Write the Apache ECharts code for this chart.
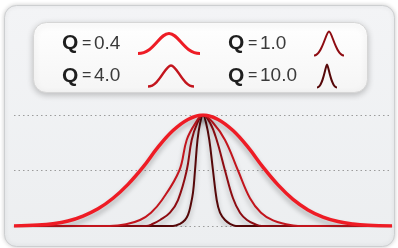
<!DOCTYPE html>
<html>
<head>
<meta charset="UTF-8">
<title>Q curves</title>
<script src="https://cdn.jsdelivr.net/npm/echarts@6/dist/echarts.min.js"></script>
</head>
<body style="margin:0;background:#fff;">
<div id="container" style="width:398px;height:248px;"></div>
<script type="text/javascript">
// x = offset from the peak (px-like units), y = relative height
var q04X = [-189, -165, -150, -135, -120, -105, -90, -75, -60, -45, -30, -15, 0, 15, 30, 45, 60, 75, 90, 105, 120, 135, 150, 165, 189];
var q04Y = [0, 0.008, 0.02, 0.045, 0.09, 0.155, 0.25, 0.375, 0.53, 0.71, 0.86, 0.96, 1, 0.96, 0.86, 0.71, 0.53, 0.37, 0.24, 0.145, 0.08, 0.04, 0.018, 0.007, 0];
var q40X = [-189, -93, -77, -63, -52, -41, -23.7, -16.3, -8, 0, 10, 22, 35, 47, 58, 70, 82, 95, 189];
var q40Y = [0, 0, 0.015, 0.054, 0.12, 0.234, 0.5, 0.775, 0.92, 1, 0.93, 0.775, 0.5, 0.25, 0.12, 0.05, 0.018, 0, 0];
var q10X = [-189, -57, -50, -43, -33, -25, -16.3, -11.3, -6, 0, 7, 13.7, 22, 30, 37, 44, 51, 59, 189];
var q10Y = [0, 0, 0.02, 0.054, 0.12, 0.234, 0.5, 0.775, 0.92, 1, 0.93, 0.775, 0.5, 0.25, 0.12, 0.054, 0.02, 0, 0];
var q100X = [-189, -30, -23, -18, -15, -12.5, -10, -8, -5.5, -3, 0, 3, 6.3, 10, 13.7, 17, 22, 27, 33, 189];
var q100Y = [0, 0, 0.02, 0.054, 0.1, 0.18, 0.3, 0.5, 0.775, 0.92, 1, 0.93, 0.775, 0.5, 0.234, 0.12, 0.054, 0.02, 0, 0];

var names = ['Q = 0.4', 'Q = 4.0', 'Q = 1.0', 'Q = 10.0'];
var qValues = ['0.4', '4.0', '1.0', '10.0'];
var colors = ['#ee1c25', '#c3151d', '#8e0c12', '#560809'];

function pairs(xs, ys) {
  return xs.map(function (x, i) { return [x, ys[i]]; });
}

var dom = document.getElementById('container');
var myChart = echarts.init(dom, null, { renderer: 'canvas' });

var valueFont = '"Liberation Sans", Arial, sans-serif';

function makeLegend(idx, left, top, w, h, textW, path, lw) {
  return {
    left: left,
    top: top,
    padding: 0,
    align: 'right',
    selectedMode: false,
    itemWidth: w,
    itemHeight: h,
    formatter: function () { return '{q|Q}{e|=}{v|' + qValues[idx] + '}'; },
    textStyle: {
      fontFamily: valueFont,
      fontSize: 19,
      color: '#3a3a3a',
      rich: {
        q: { fontFamily: valueFont, fontWeight: 'bold', fontSize: 21, color: '#1e1e1e', width: 20, align: 'left' },
        e: { fontFamily: valueFont, fontSize: 16, color: '#3a3a3a', width: 12, align: 'left' },
        v: { fontFamily: valueFont, fontSize: 19, color: '#3a3a3a', width: textW, align: 'left' }
      }
    },
    data: [{
      name: names[idx],
      icon: 'path://' + path,
      itemStyle: { color: 'none', borderColor: colors[idx], borderWidth: lw }
    }]
  };
}

function makeSeries(idx, data, width, z) {
  return {
    name: names[idx],
    type: 'line',
    data: data,
    smooth: 0.4,
    symbol: 'none',
    z: z,
    lineStyle: {
      color: colors[idx],
      width: width,
      shadowColor: 'rgba(0,0,0,0.28)',
      shadowBlur: 5,
      shadowOffsetY: 4
    },
    itemStyle: { color: colors[idx] }
  };
}

var option = {
  backgroundColor: '#ffffff',
  animation: false,
  graphic: [
    {
      type: 'rect',
      z: -10,
      shape: { x: 4.5, y: 5.5, width: 390, height: 241, r: 12 },
      style: {
        fill: new echarts.graphic.LinearGradient(0, 0, 0, 1, [
          { offset: 0, color: '#f3f4f6' },
          { offset: 1, color: '#eceef0' }
        ]),
        stroke: '#cdcfd1',
        lineWidth: 1,
        shadowColor: 'rgba(0,0,0,0.18)',
        shadowBlur: 4
      }
    },
    {
      type: 'rect',
      z: -5,
      shape: { x: 33.5, y: 22.5, width: 334, height: 70, r: 13 },
      style: {
        fill: new echarts.graphic.LinearGradient(0, 0, 0, 1, [
          { offset: 0, color: '#ffffff' },
          { offset: 1, color: '#f5f5f5' }
        ]),
        stroke: '#d6d6d6',
        lineWidth: 1,
        shadowColor: 'rgba(0,0,0,0.22)',
        shadowBlur: 6,
        shadowOffsetY: 2
      }
    }
  ],
  legend: [
    makeLegend(0, 62, 31, 62, 20, 39, 'M0 20C16 20 21 0 31 0C41 0 46 20 62 20', 3),
    makeLegend(1, 62, 63, 46, 21, 49, 'M0 21C11 21 17 0 23 0C29 0 35 21 46 21', 2.5),
    makeLegend(2, 228, 29, 30, 24, 49, 'M0 24C8 24 12 0 15 0C18 0 22 24 30 24', 2),
    makeLegend(3, 228, 62, 20, 23, 52, 'M0 23C6 23 8.6 0 10 0C11.4 0 14 23 20 23', 2)
  ],
  grid: { left: 14, right: 6, top: 115, bottom: 22 },
  xAxis: {
    type: 'value',
    min: -189,
    max: 189,
    show: false
  },
  yAxis: {
    type: 'value',
    min: 0,
    max: 1,
    interval: 0.5,
    axisLine: { show: false },
    axisTick: { show: false },
    axisLabel: { show: false },
    splitLine: { lineStyle: { color: '#9c9c9c', width: 1, type: [1.5, 3] } }
  },
  series: [
    makeSeries(3, pairs(q100X, q100Y), 2, 2),
    makeSeries(2, pairs(q10X, q10Y), 2, 3),
    makeSeries(1, pairs(q40X, q40Y), 2, 4),
    makeSeries(0, pairs(q04X, q04Y), 3.5, 5)
  ]
};

myChart.setOption(option);
</script>
</body>
</html>
